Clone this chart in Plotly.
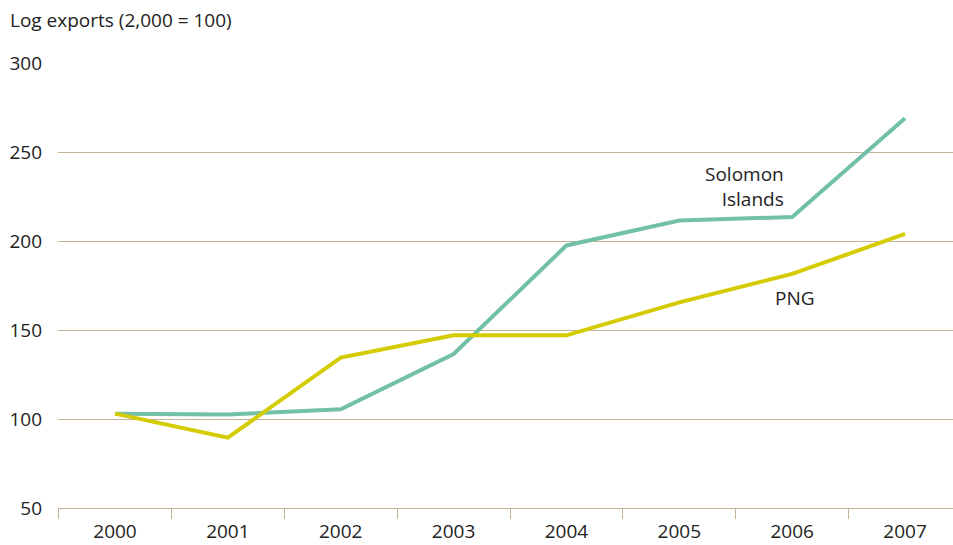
import plotly.graph_objects as go

years = ["2000", "2001", "2002", "2003", "2004", "2005", "2006", "2007"]
solomon = [103, 102.5, 105.5, 136.5, 197.5, 211.5, 213.5, 269]
png = [103, 89.5, 134.5, 147, 147, 165.5, 181.5, 204]
y_ticks = [50, 100, 150, 200, 250, 300]

TEAL = "#72c0a9"
YELLOW = "#d4cc00"
GRID = "#c4b396"
FONT = "Open Sans"
FS = 19
TXT = "#222222"

fig = go.Figure()
fig.add_trace(go.Scatter(x=years, y=solomon, mode="lines", line=dict(color=TEAL, width=4), name="Solomon Islands"))
fig.add_trace(go.Scatter(x=years, y=png, mode="lines", line=dict(color=YELLOW, width=4), name="PNG"))

fig.update_layout(
    width=953, height=545,
    margin=dict(l=58, r=0, t=63, b=37, autoexpand=False),
    paper_bgcolor="white", plot_bgcolor="white",
    showlegend=False,
    font=dict(family=FONT, size=FS, color=TXT),
)
fig.update_xaxes(
    type="category", range=[-0.505, 7.425], automargin=False,
    tickson="boundaries", ticks="outside", ticklen=10, tickcolor=GRID, tickwidth=1,
    showline=True, linecolor=GRID, linewidth=1,
    showgrid=False, zeroline=False, ticklabelstandoff=6,
)
fig.update_yaxes(
    range=[50, 300], tickvals=y_ticks, automargin=False,
    showgrid=True, gridcolor=GRID, gridwidth=1,
    zeroline=False, showline=False, ticks="", ticklabelstandoff=15,
)
fig.add_annotation(xref="paper", yref="paper", x=0, y=1, xshift=-50, yshift=43,
                   xanchor="left", yanchor="middle", text="Log exports (2,000 = 100)",
                   showarrow=False, font=dict(family=FONT, size=FS, color=TXT))
fig.add_annotation(xref="x", yref="y", x=6, y=230.6, text="Solomon<br>Islands", showarrow=False,
                   xanchor="right", yanchor="middle", align="right", xshift=-6,
                   font=dict(family=FONT, size=FS, color=TXT))
fig.add_annotation(xref="x", yref="y", x=6, y=168, text="PNG", showarrow=False,
                   xanchor="center", yanchor="middle", xshift=3,
                   font=dict(family=FONT, size=FS, color=TXT))

fig.write_html("out.html", config={"displayModeBar": False},
               post_script="document.body.style.margin='0';document.body.style.overflow='hidden';")
